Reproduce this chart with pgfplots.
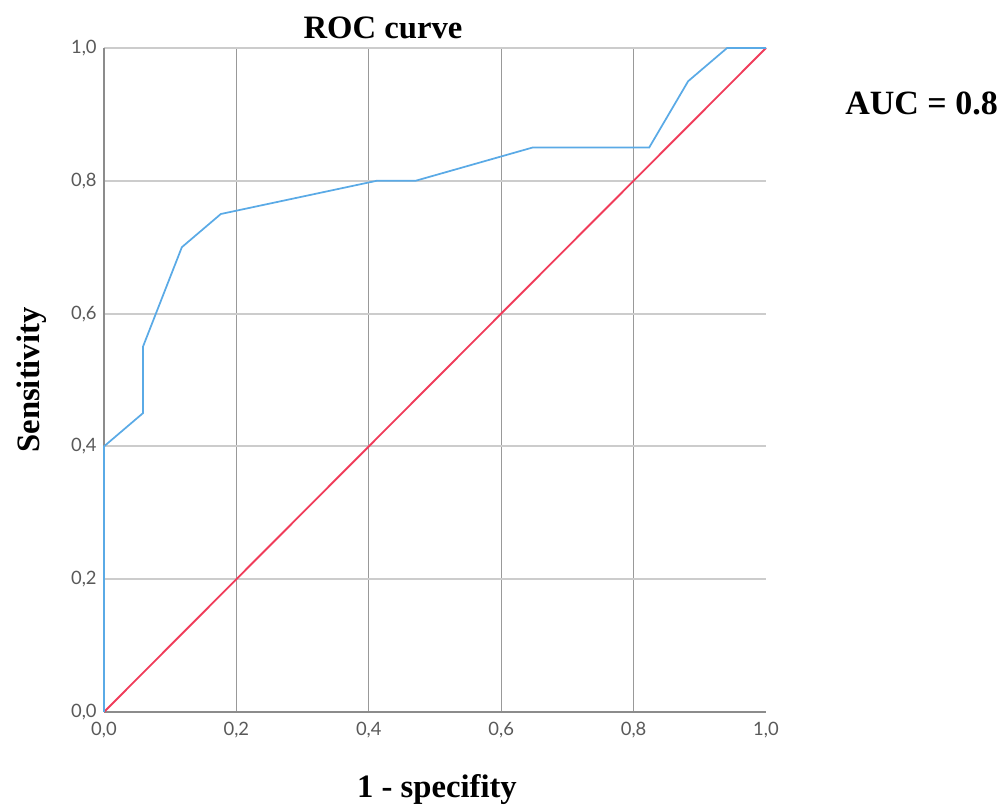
\documentclass[border=0pt]{standalone}
\usepackage{pgfplots}
\pgfplotsset{compat=1.18}
\usepackage{fontspec}
\setmainfont{Liberation Serif}
\newfontfamily\tickfont{Lato}
\definecolor{rocblue}{RGB}{90,170,230}
\definecolor{rocred}{RGB}{240,60,90}
\begin{document}
\begin{tikzpicture}
\useasboundingbox (-78pt,-71.25pt) rectangle (678pt,534pt);
\begin{axis}[
  at={(0,0)}, anchor=south west,
  scale only axis, width=496.5pt, height=498pt,
  xmin=0, xmax=1, ymin=0, ymax=1,
  axis x line=bottom, axis y line=left,
  axis line style={draw=black!45, line width=0.9pt, -},
  xtick={0,0.2,0.4,0.6,0.8},
  extra x ticks={1},
  extra x tick style={grid=none},
  ytick={0,0.2,0.4,0.6,0.8,1},
  major tick length=0pt,
  xmajorgrids, ymajorgrids,
  x grid style={draw=black!40, line width=0.8pt},
  y grid style={draw=black!20, line width=1.4pt},
  xticklabel style={font=\tickfont\fontsize{13.8}{16}\selectfont, text=black!65, yshift=-4pt},
  yticklabel style={font=\tickfont\fontsize{13.8}{16}\selectfont, text=black!65, xshift=-2pt},
  /pgf/number format/.cd, fixed, fixed zerofill, precision=1, use comma, assume math mode=true,
  /pgfplots/.cd,
  clip=false,
]
\addplot[rocred, line width=1.4pt] coordinates {(0,0) (1,1)};
\addplot[rocblue, line width=1.3pt] coordinates {
(0,0) (0,0.40) (0.0588,0.45) (0.0588,0.55) (0.1176,0.70) (0.1765,0.75)
(0.4118,0.80) (0.4706,0.80) (0.6471,0.85) (0.8235,0.85) (0.8824,0.95)
(0.9412,1.00) (1,1)};
\end{axis}
\node[font=\bfseries\fontsize{24.5}{28}\selectfont] at (209.25pt,513pt) {ROC curve};
\node[font=\bfseries\fontsize{24.5}{28}\selectfont] at (249.75pt,-58.5pt) {1 - specifity};
\node[font=\bfseries\fontsize{24.5}{28}\selectfont, rotate=90] at (-54pt,249pt) {Sensitivity};
\node[font=\bfseries\fontsize{25.5}{28}\selectfont, anchor=west, inner sep=0pt] at (555.75pt,456.75pt) {AUC = 0.8};
\end{tikzpicture}
\end{document}
